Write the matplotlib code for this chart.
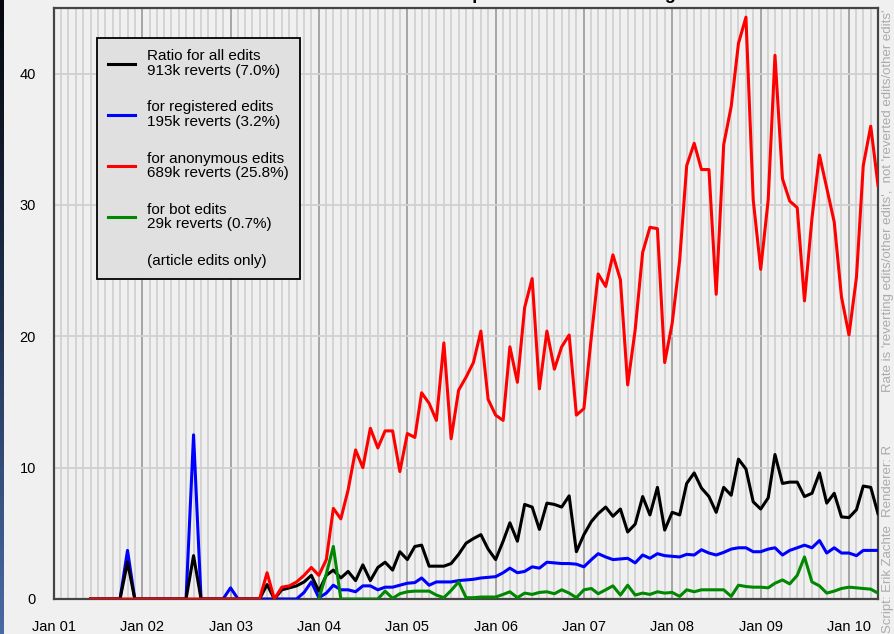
import numpy as np
import pandas as pd
import matplotlib
matplotlib.use("Agg")
import matplotlib.pyplot as plt
import matplotlib.dates as mdates
from matplotlib.lines import Line2D
from matplotlib.colors import LinearSegmentedColormap

plt.rcParams['font.family'] = ['Liberation Sans', 'DejaVu Sans']

# monthly points, Jun 2001 .. May 2010
months = pd.date_range("2001-06-01", "2010-05-01", freq="MS")
bot_months = pd.date_range("2004-01-01", "2010-05-01", freq="MS")

# revert ratio (%) for all edits
all_edits = ([0.0] * 5 + [2.8] + [0.0] * 8 + [3.3] + [0.0] * 9 +
             [1.1, 0.0, 0.7, 0.85, 1.0, 1.3, 1.8,                      # 2003 Jun-Dec
              0.6, 1.8, 2.2, 1.6, 2.1, 1.4, 2.6, 1.4, 2.4, 2.8, 2.2, 3.6,  # 2004
              3.0, 4.0, 4.1, 2.5, 2.5, 2.5, 2.7, 3.4, 4.25, 4.6, 4.9, 3.8,  # 2005
              3.0, 4.4, 5.8, 4.4, 7.2, 7.0, 5.3, 7.3, 7.2, 7.0, 7.85, 3.6,  # 2006
              4.9, 5.9, 6.5, 7.0, 6.3, 6.85, 5.1, 5.7, 7.8, 6.4, 8.5, 5.25,  # 2007
              6.6, 6.4, 8.8, 9.6, 8.45, 7.8, 6.6, 8.5, 7.9, 10.65, 9.9, 7.4,  # 2008
              6.85, 7.7, 11.0, 8.8, 8.9, 8.9, 7.8, 8.05, 9.6, 7.3, 8.05, 6.25,  # 2009
              6.2, 6.8, 8.6, 8.5, 6.5])                                   # 2010

# registered users
registered = ([0.0] * 5 + [3.7] + [0.0] * 8 + [12.5] + [0.0] * 4 + [0.85] + [0.0] * 9 +
              [0.5, 1.3,                                                   # 2003 Nov-Dec
               0.1, 0.45, 1.05, 0.7, 0.7, 0.55, 1.0, 1.0, 0.7, 0.9, 0.9, 1.05,  # 2004
               1.2, 1.25, 1.6, 1.05, 1.3, 1.3, 1.3, 1.4, 1.45, 1.5, 1.6, 1.65,  # 2005
               1.7, 2.0, 2.35, 2.0, 2.1, 2.45, 2.35, 2.8, 2.75, 2.7, 2.7, 2.65,  # 2006
               2.45, 3.0, 3.45, 3.2, 3.0, 3.05, 3.1, 2.75, 3.35, 3.1, 3.45, 3.3,  # 2007
               3.25, 3.2, 3.4, 3.35, 3.75, 3.5, 3.35, 3.55, 3.8, 3.9, 3.9, 3.6,  # 2008
               3.6, 3.8, 3.9, 3.35, 3.7, 3.9, 4.1, 3.9, 4.45, 3.5, 3.9, 3.5,  # 2009
               3.5, 3.3, 3.7, 3.7, 3.7])                                   # 2010

# anonymous users
anonymous = ([0.0] * 24 +
             [2.0, 0.0, 0.9, 1.0, 1.3, 1.8, 2.4,                           # 2003 Jun-Dec
              1.8, 3.0, 6.9, 6.1, 8.3, 11.35, 10.0, 13.0, 11.5, 12.8, 12.8, 9.7,  # 2004
              12.6, 12.3, 15.7, 14.9, 13.6, 19.5, 12.2, 15.9, 16.9, 18.0, 20.4, 15.2,  # 2005
              14.0, 13.6, 19.2, 16.5, 22.2, 24.4, 16.0, 20.4, 17.5, 19.2, 20.1, 14.0,  # 2006
              14.5, 20.0, 24.75, 23.8, 26.2, 24.3, 16.3, 20.5, 26.4, 28.3, 28.2, 18.0,  # 2007
              21.0, 25.8, 33.0, 34.7, 32.7, 32.7, 23.2, 34.6, 37.5, 42.3, 44.3, 30.4,  # 2008
              25.1, 30.4, 41.4, 32.0, 30.3, 29.8, 22.7, 29.0, 33.8, 31.3, 28.7, 23.0,  # 2009
              20.1, 24.5, 33.0, 36.0, 31.5])                               # 2010

# bots (from 2004)
bots = [0.0, 1.9, 4.0, 0.0, 0.0, 0.0, 0.0, 0.0, 0.0, 0.6, 0.05, 0.4,       # 2004
        0.55, 0.6, 0.6, 0.6, 0.3, 0.1, 0.65, 1.3, 0.1, 0.1, 0.15, 0.15,    # 2005
        0.15, 0.35, 0.55, 0.1, 0.45, 0.35, 0.5, 0.55, 0.4, 0.7, 0.45, 0.1,  # 2006
        0.7, 0.8, 0.4, 0.7, 1.0, 0.3, 1.05, 0.3, 0.45, 0.35, 0.55, 0.45,   # 2007
        0.5, 0.2, 0.7, 0.55, 0.7, 0.7, 0.7, 0.7, 0.2, 1.05, 0.95, 0.9,     # 2008
        0.9, 0.85, 1.2, 1.45, 1.15, 1.8, 3.2, 1.3, 1.0, 0.45, 0.6, 0.8,    # 2009
        0.9, 0.85, 0.8, 0.75, 0.45]                                        # 2010

labels = ["Ratio for all edits\n913k reverts (7.0%)",
          "for registered edits\n195k reverts (3.2%)",
          "for anonymous edits\n689k reverts (25.8%)",
          "for bot edits\n29k reverts (0.7%)",
          "(article edits only)"]
colors = ["black", "#0000ff", "#ff0000", "#008800"]

W, H = 895, 634
fig = plt.figure(figsize=(W / 100, H / 100), dpi=100, facecolor="#f0f0f0")
ax = fig.add_axes([54 / W, 35 / H, (878 - 54) / W, (599 - 8) / H])
ax.set_facecolor("#f0f0f0")

# dark window edge on the far left
strip = fig.add_axes([0, 0, 4 / W, 1])
cmap = LinearSegmentedColormap.from_list("edge", ["#05070c", "#20324f", "#4a6aa6"])
strip.imshow(np.linspace(0, 1, 200).reshape(-1, 1), aspect="auto", cmap=cmap)
strip.axis("off")

lw = 2.2
ax.plot(months, registered, color=colors[1], lw=lw, zorder=3)
ax.plot(months, all_edits, color=colors[0], lw=lw, zorder=4)
ax.plot(months, anonymous, color=colors[2], lw=lw, zorder=5)
ax.plot(bot_months, bots, color=colors[3], lw=lw, zorder=6)

ax.set_xlim(pd.Timestamp("2001-01-01"), months[-1])
ax.set_ylim(0, 45)

ax.xaxis.set_major_locator(mdates.YearLocator())
ax.xaxis.set_major_formatter(mdates.DateFormatter("Jan %y"))
ax.xaxis.set_minor_locator(mdates.MonthLocator())
ax.set_yticks([0, 10, 20, 30, 40])

ax.grid(which="minor", axis="x", color="#d2d2d2", lw=1.3, zorder=0)
ax.grid(which="major", axis="x", color="#a0a0a0", lw=1.3, zorder=1)
ax.grid(which="major", axis="y", color="#d0d0d0", lw=1.3, zorder=1)
ax.tick_params(which="both", length=0)
ax.tick_params(axis="x", pad=15, labelsize=10.5)
ax.tick_params(axis="y", pad=13, labelsize=10.5)
for s in ax.spines.values():
    s.set_color("#444444")
    s.set_linewidth(1.6)

handles = [Line2D([], [], color=c, lw=lw) for c in colors]
handles.append(Line2D([], [], color="none"))
leg = ax.legend(handles, labels, loc="upper left",
                bbox_to_anchor=(97 / W, 1 - 38 / H), bbox_transform=fig.transFigure,
                borderaxespad=0, fancybox=False, framealpha=1,
                facecolor="#e0e0e0", edgecolor="black",
                fontsize=11, labelspacing=1.45, handlelength=1.75,
                handletextpad=0.75, borderpad=0.75)
leg.get_frame().set_linewidth(1.3)
leg.set_zorder(10)
for t in leg.get_texts():
    t.set_linespacing(1.08)

# title, mostly above the visible area
fig.text(462 / W, 1 + 1 / H, "Revert Ratio Trend in Wikipedia EN Article Editing",
         ha="center", va="baseline", fontsize=13, fontweight="bold")

# credits along the right edge
side = dict(rotation=90, ha="center", va="bottom", fontsize=9.5, color="#ababab")
fig.text(888 / W, 1 / H, "Script: Erik Zachte", **side)
fig.text(888 / W, (634 - 517) / H, "Renderer: R", **side)
fig.text(888 / W, (634 - 392) / H,
         "Rate is 'reverting edits/other edits',  not 'reverted edits/other edits'", **side)

fig.savefig("out.png", dpi=100, facecolor=fig.get_facecolor())
